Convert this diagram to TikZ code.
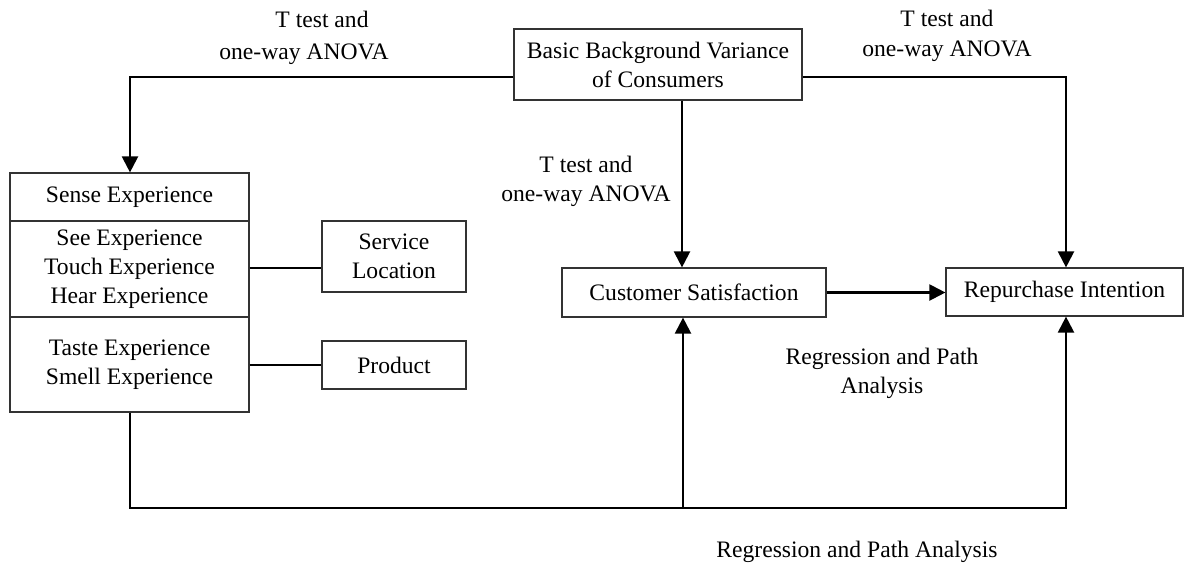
\documentclass[tikz,border=0pt]{standalone}
\usepackage{fontspec}
\setmainfont{Liberation Serif}
\usetikzlibrary{arrows.meta}
\begin{document}
\begin{tikzpicture}[x=1pt,y=-1pt,
  every node/.style={font=\fontsize{23.6}{29}\selectfont},
  box/.style={draw=black!80, line width=1.2pt, rectangle, inner sep=0pt, align=center},
  conn/.style={line width=2.2pt, draw=black},
  arr/.style={conn, -{Triangle[length=16pt,width=16pt]}},
  lbl/.style={inner sep=0pt, align=center}]
\useasboundingbox (0,0) rectangle (1185,563);
% boxes
\node[box, minimum width=288pt, minimum height=71pt] (bg) at (658,64.5) {Basic Background Variance\\of Consumers};
\node[box, minimum width=239pt, minimum height=48pt] (sense) at (129.5,197) {Sense Experience};
\node[box, minimum width=239pt, minimum height=96pt] (see) at (129.5,269) {See Experience\\Touch Experience\\Hear Experience};
\node[box, minimum width=239pt, minimum height=95pt] (taste) at (129.5,364.5) {Taste Experience\\Smell Experience};
\node[box, minimum width=144pt, minimum height=71pt] (serv) at (394,256.5) {Service\\Location};
\node[box, minimum width=144pt, minimum height=48pt] (prod) at (394,365) {Product};
\node[box, minimum width=264pt, minimum height=49pt] (cs) at (694,292.5) {Customer Satisfaction};
\node[box, minimum width=237pt, minimum height=48pt] (rp) at (1064.5,292) {Repurchase Intention};
% helper coordinates
\coordinate (tl) at (130,77);
\coordinate (tr) at (1066,77);
\coordinate (mx) at (682,0);
\coordinate (b1) at (130,508);
\coordinate (b2) at (683,508);
\coordinate (b3) at (1066,508);
% connectors
\draw[arr] (bg.west |- tl) -- (tl) -- (sense.north -| tl);
\draw[arr] (bg.east |- tr) -- (tr) -- (rp.north -| tr);
\draw[arr] (bg.south -| mx) -- (cs.north -| mx);
\draw[arr] (cs.east) -- (rp.west |- cs.east);
\draw[conn] (see.east |- 0,268) -- (serv.west |- 0,268);
\draw[conn] (taste.east |- prod.west) -- (prod.west);
\draw[conn] (taste.south -| b1) -- (b1) -- (b2);
\draw[arr] (b2) -- (b3) -- (rp.south -| b3);
\draw[arr] (b2) -- (cs.south -| b2);
% labels
\node[lbl, anchor=north, font=\fontsize{23.6}{32}\selectfont] (l1) at (304,11) {\hspace*{36pt}T test and\\one-way ANOVA};
\node[lbl, anchor=north, font=\fontsize{23.6}{30}\selectfont] (l2) at (947,10) {T test and\\one-way ANOVA};
\node[lbl, anchor=north] (l3) at (586,156) {T test and\\one-way ANOVA};
\node[lbl, anchor=north] (l4) at (882,348) {Regression and Path\\Analysis};
\node[lbl, anchor=base] (l5) at (857,557) {Regression and Path Analysis};
\end{tikzpicture}
\end{document}
